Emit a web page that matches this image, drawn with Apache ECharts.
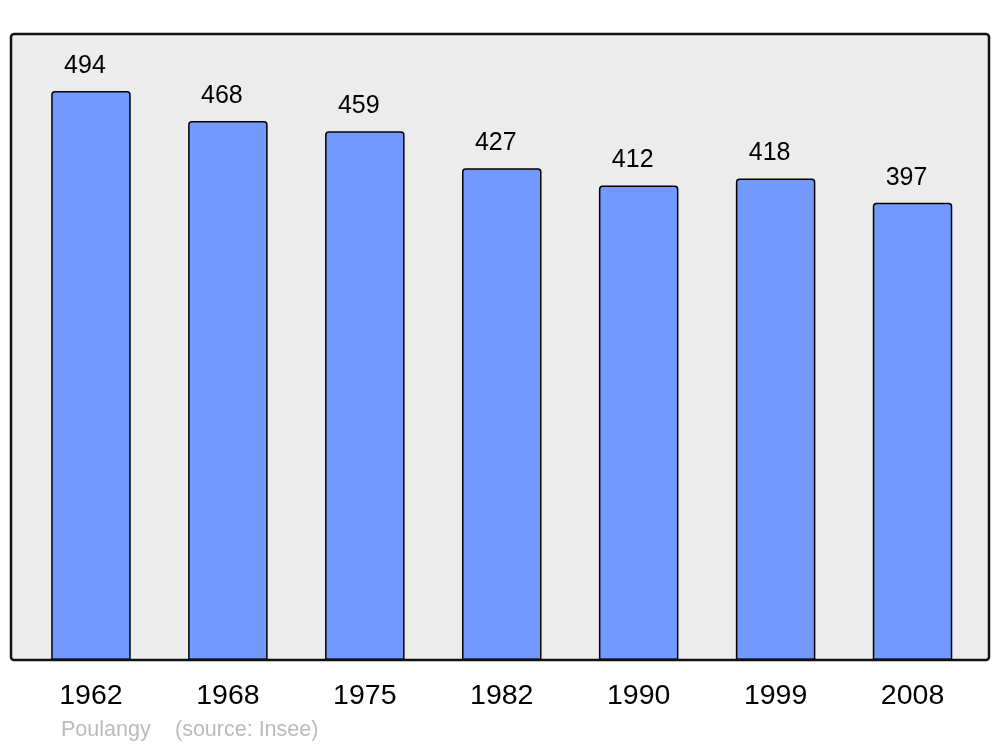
<!DOCTYPE html>
<html>
<head>
<meta charset="utf-8">
<script src="https://cdn.jsdelivr.net/npm/echarts@6/dist/echarts.min.js"></script>
<style>html,body{margin:0;padding:0;background:#fff}#c{width:1000px;height:747px}</style>
</head>
<body>
<div id="c"></div>
<script>
const years = ['1962', '1968', '1975', '1982', '1990', '1999', '2008'];
const population = [494, 468, 459, 427, 412, 418, 397];
const placeName = 'Poulangy';
const sourceText = '(source: Insee)';

const chart = echarts.init(document.getElementById('c'), null, {renderer: 'canvas'});
const FONT = '"Liberation Sans", Arial, sans-serif';
chart.setOption({
  animation: false,
  backgroundColor: '#ffffff',
  grid: {left: 22.5, right: 19, top: 34, bottom: 87},
  xAxis: {
    type: 'category',
    data: years,
    axisLine: {show: false},
    axisTick: {show: false},
    axisLabel: {color: '#000', fontSize: 28.5, fontFamily: FONT, margin: 22}
  },
  yAxis: {
    type: 'value',
    min: 0,
    max: 543.5,
    show: false,
    splitLine: {show: false}
  },
  graphic: [
    {type: 'rect', z: -10, shape: {x: 11, y: 34, width: 978, height: 626, r: 3},
     style: {fill: '#ececec', stroke: null}},
    {type: 'rect', z: 100, shape: {x: 11, y: 34, width: 978, height: 626, r: 3},
     style: {fill: null, stroke: '#111111', lineWidth: 2.5}},
    {type: 'text', left: 61, top: 719,
     style: {text: placeName, fill: '#bbbbbb', font: '21.5px ' + FONT}},
    {type: 'text', left: 175, top: 719,
     style: {text: sourceText, fill: '#bbbbbb', font: '21.5px ' + FONT}}
  ],
  series: [{
    type: 'bar',
    data: population,
    barWidth: 79.5,
    itemStyle: {color: '#7399ff', borderColor: '#000', borderWidth: 1.5, borderRadius: [3, 3, 0, 0]},
    label: {show: true, position: 'top', distance: 12.5, offset: [-6, 0], color: '#000', fontSize: 25, fontFamily: FONT}
  }]
});
</script>
</body>
</html>
